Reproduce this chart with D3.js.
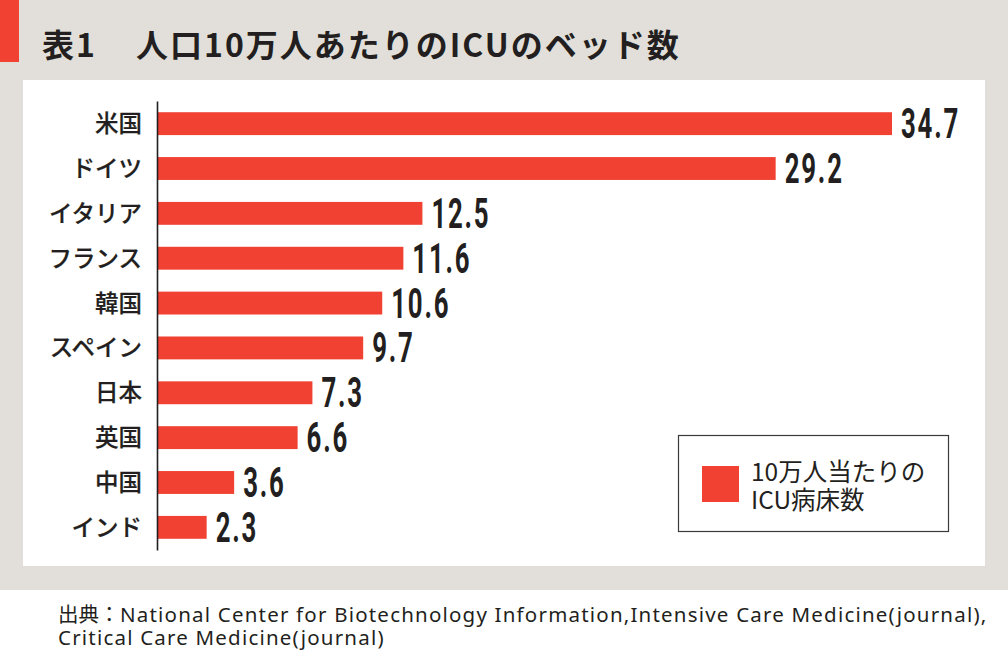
<!DOCTYPE html>
<html><head><meta charset="utf-8">
<script src="https://cdn.jsdelivr.net/npm/d3@7"></script>
<style>
html,body{margin:0;padding:0;background:#fff;}
svg{display:block;}
</style>
</head><body>
<script>
const titleParts = ["表1","人口10万人あたりのICUのベッド数"];
const categories = ["米国","ドイツ","イタリア","フランス","韓国","スペイン","日本","英国","中国","インド"];
const values = [34.7,29.2,12.5,11.6,10.6,9.7,7.3,6.6,3.6,2.3];
const legendLines = ["10万人当たりの","ICU病床数"];
const sourceLabel = "出典：";
const sourceLines = ["National Center for Biotechnology Information,Intensive Care Medicine(journal),","Critical Care Medicine(journal)"];

const W = 1008, H = 658;
const RED = "#f04133", GRAY = "#e2dfda", INK = "#231f20";
const JP = "'Noto Sans CJK JP','Noto Sans',sans-serif";

const svg = d3.select("body").append("svg").attr("width", W).attr("height", H);

// backgrounds
svg.append("rect").attr("x",0).attr("y",0).attr("width",W).attr("height",590).attr("fill",GRAY);
svg.append("rect").attr("x",0).attr("y",0).attr("width",19).attr("height",62).attr("fill",RED);
svg.append("rect").attr("x",23).attr("y",80).attr("width",962).attr("height",486).attr("fill","#fff");

// title
const t = svg.append("text").attr("y",57)
  .attr("font-family",JP).attr("font-weight",700).attr("font-size",32)
  .attr("letter-spacing",2).attr("fill",INK);
t.append("tspan").attr("x",42).text(titleParts[0]);
t.append("tspan").attr("x",136).text(titleParts[1]);

// scales
const x = d3.scaleLinear().domain([0, 34.7]).range([158, 892]);
const y = d3.scaleBand().domain(categories).range([101, 550]).paddingInner(0.49).paddingOuter(0.25);

const data = categories.map((c,i)=>({c, v: values[i]}));

// bars
svg.append("g").selectAll("rect").data(data).join("rect")
  .attr("x", x(0)).attr("y", d=>y(d.c))
  .attr("width", d=>x(d.v)-x(0)).attr("height", y.bandwidth())
  .attr("fill", RED);

// axis (left)
const yAxis = d3.axisLeft(y).tickSize(0).tickPadding(15);
const ag = svg.append("g").attr("transform","translate(157,0)").call(yAxis);
ag.select(".domain").attr("stroke",INK).attr("stroke-width",1.6);
ag.selectAll("text").attr("font-family",JP).attr("font-weight",500).attr("font-size",23.5)
  .attr("fill",INK).attr("stroke",INK).attr("stroke-width",0.2).attr("dy","0.36em");

// value labels (condensed bold)
svg.append("g").selectAll("text").data(data).join("text")
  .attr("transform", d=>`translate(${x(d.v)+9},${y(d.c)+y.bandwidth()+3}) scale(0.6,1)`)
  .attr("font-family","Roboto, 'DejaVu Sans', sans-serif").attr("font-weight",700)
  .attr("font-size",43).attr("letter-spacing",3).attr("fill",INK)
  .text(d=>d3.format(".1f")(d.v));

// legend
const lg = svg.append("g");
lg.append("rect").attr("x",678.5).attr("y",435.5).attr("width",270).attr("height",96)
  .attr("fill","#fff").attr("stroke","#3a3a3a").attr("stroke-width",1.2);
lg.append("rect").attr("x",702).attr("y",466).attr("width",37).attr("height",36).attr("fill",RED);
const lt = lg.append("text").attr("font-family",JP).attr("font-weight",400)
  .attr("font-size",24.5).attr("fill",INK);
lt.selectAll("tspan").data(legendLines).join("tspan")
  .attr("x",751).attr("y",(d,i)=>481+i*27.5).text(d=>d);

// source (single text element, lines as tspans)
const st = svg.append("text").attr("font-family","'Noto Sans','Noto Sans CJK JP',sans-serif")
  .attr("font-size",20.5).attr("fill",INK);
st.append("tspan").attr("x",58).attr("y",622).attr("font-family",JP).text(sourceLabel);
st.append("tspan").attr("x",120).attr("y",622).attr("letter-spacing",1.2).text(sourceLines[0]);
st.append("tspan").attr("x",58).attr("y",645).attr("letter-spacing",1.2).text(sourceLines[1]);
</script>
</body></html>
